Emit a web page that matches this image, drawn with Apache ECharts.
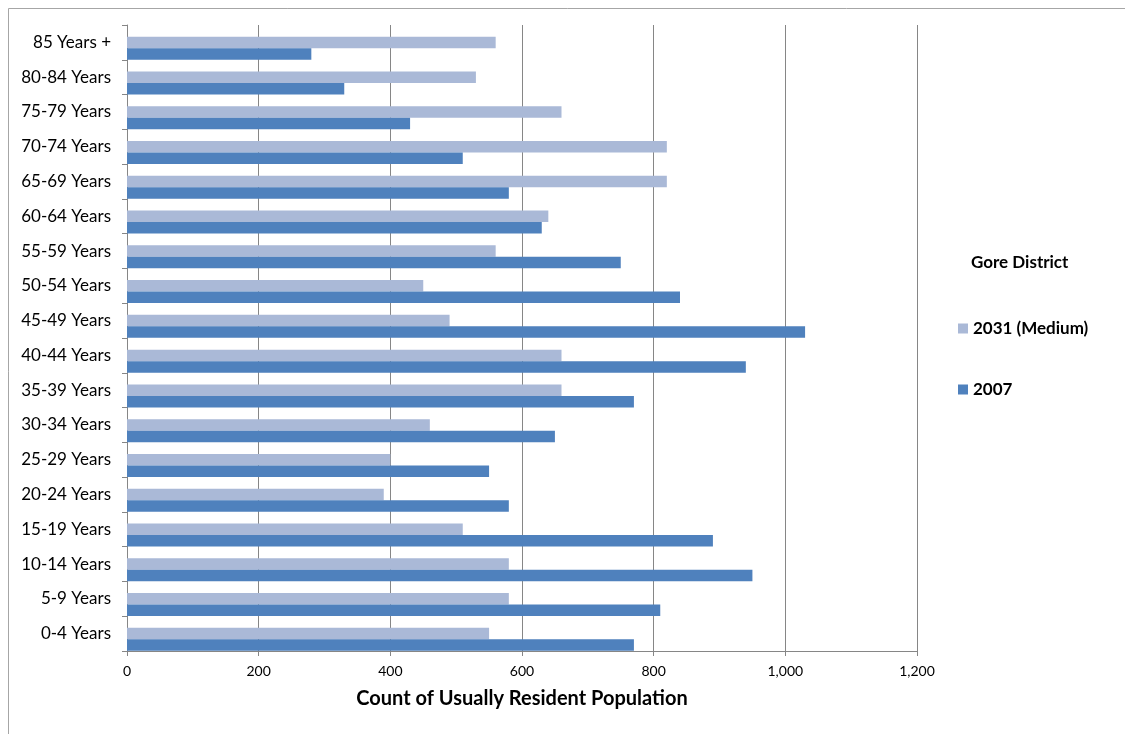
<!DOCTYPE html>
<html>
<head>
<meta charset="utf-8">
<script src="https://cdn.jsdelivr.net/npm/echarts@6/dist/echarts.min.js"></script>
<style>
  html, body { margin: 0; padding: 0; background: #fff; }
  #chart { width: 1125px; height: 734px; }
</style>
</head>
<body>
<div id="chart"></div>
<script>
// Age groups, youngest first (bottom of the chart)
const ageGroups = [
  '0-4 Years', '5-9 Years', '10-14 Years', '15-19 Years', '20-24 Years',
  '25-29 Years', '30-34 Years', '35-39 Years', '40-44 Years', '45-49 Years',
  '50-54 Years', '55-59 Years', '60-64 Years', '65-69 Years', '70-74 Years',
  '75-79 Years', '80-84 Years', '85 Years +'
];

// Usually resident population, 2007
const pop2007 = [770, 810, 950, 890, 580, 550, 650, 770, 940, 1030,
                 840, 750, 630, 580, 510, 430, 330, 280];

// Projected population, 2031 (medium series)
const pop2031 = [550, 580, 580, 510, 390, 400, 460, 660, 660, 490,
                 450, 560, 640, 820, 820, 660, 530, 560];

const xTicks = [0, 200, 400, 600, 800, 1000, 1200];

const FONT = 'Lato, "Liberation Sans", sans-serif';
const BAR_W = 11.5;

const chart = echarts.init(document.getElementById('chart'));
chart.setOption({
  animation: false,
  backgroundColor: '#fff',
  graphic: [{
    type: 'rect',
    shape: { x: 8.5, y: 8.5, width: 1200, height: 800 },
    style: { fill: 'none', stroke: '#a6a6a6', lineWidth: 1 }
  }],
  title: {
    text: 'Gore District',
    left: 966, top: 249,
    textStyle: { fontFamily: FONT, fontSize: 17, fontWeight: 'bold', color: '#000' }
  },
  legend: {
    orient: 'vertical',
    left: 953, top: 315,
    itemWidth: 10, itemHeight: 10,
    itemGap: 44,
    icon: 'rect',
    data: ['2031 (Medium)', '2007'],
    textStyle: { fontFamily: FONT, fontSize: 17, fontWeight: 'bold', color: '#000' }
  },
  grid: { left: 127, top: 25, width: 790, height: 626, containLabel: false },
  xAxis: {
    type: 'value',
    min: xTicks[0], max: xTicks[xTicks.length - 1], interval: 200,
    name: 'Count of Usually Resident Population',
    nameLocation: 'middle', nameGap: 38,
    nameTextStyle: { fontFamily: FONT, fontSize: 20, fontWeight: 'bold', color: '#000' },
    axisLine: { show: true, lineStyle: { color: '#868686' } },
    axisTick: { show: true, length: 5, lineStyle: { color: '#868686' } },
    axisLabel: {
      fontFamily: FONT, fontSize: 14, color: '#000', margin: 13,
      formatter: v => v.toLocaleString('en-US')
    },
    splitLine: { show: true, lineStyle: { color: '#868686', width: 1 } }
  },
  yAxis: {
    type: 'category',
    data: ageGroups,
    axisLine: { show: true, lineStyle: { color: '#868686' } },
    axisTick: { show: true, length: 5, lineStyle: { color: '#868686' } },
    axisLabel: { fontFamily: FONT, fontSize: 17, color: '#000', margin: 16 },
    splitLine: { show: false }
  },
  series: [
    // empty slot keeps the pair of bars at the lower edge of each band
    {
      name: 'gap', type: 'bar', data: ageGroups.map(() => null),
      barWidth: BAR_W, barGap: '0%', silent: true
    },
    {
      name: '2031 (Medium)', type: 'bar', data: pop2031,
      barWidth: BAR_W, barGap: '0%',
      itemStyle: { color: '#aab9d7' }
    },
    {
      name: '2007', type: 'bar', data: pop2007,
      barWidth: BAR_W, barGap: '0%',
      itemStyle: { color: '#4f81bd' }
    }
  ]
});
</script>
</body>
</html>
